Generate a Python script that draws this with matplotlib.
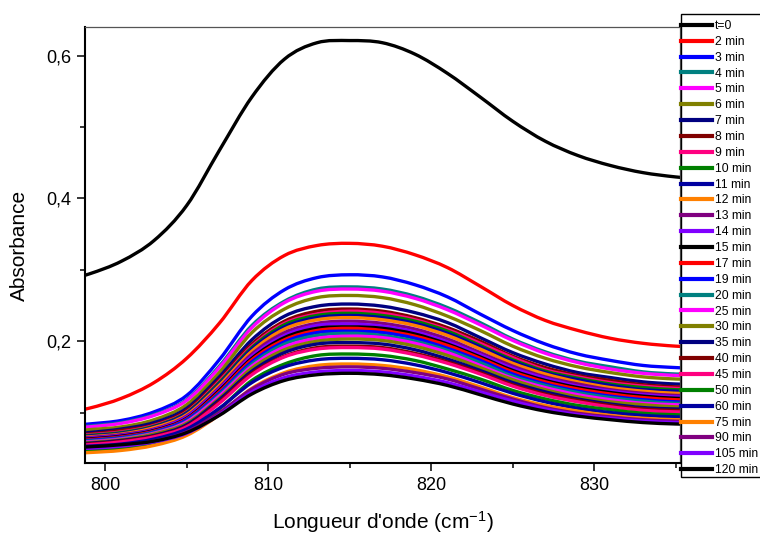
import matplotlib
matplotlib.use('Agg')
import matplotlib.pyplot as plt
from matplotlib.ticker import FixedLocator, FixedFormatter
from matplotlib.path import Path
from matplotlib.patches import PathPatch, Rectangle
from matplotlib.lines import Line2D

plt.rcParams['font.family'] = ['Liberation Sans', 'DejaVu Sans']
plt.rcParams['mathtext.fontset'] = 'custom'
plt.rcParams['mathtext.rm'] = 'Liberation Sans'
plt.rcParams['mathtext.it'] = 'Liberation Sans:italic'

# ---------------- data ----------------
wavenumber = [797, 799, 801, 803, 805, 807, 809, 811, 813, 815, 817,
              819, 821, 823, 825, 827, 829, 831, 833, 835, 837]

abs_t0 = [0.281, 0.294, 0.312, 0.341, 0.390, 0.467, 0.542, 0.595, 0.618, 0.621, 0.618,
          0.602, 0.575, 0.542, 0.508, 0.480, 0.460, 0.446, 0.436, 0.430, 0.426]
abs_2 = [0.097, 0.106, 0.120, 0.142, 0.176, 0.225, 0.285, 0.320, 0.334, 0.337, 0.333,
         0.321, 0.303, 0.277, 0.250, 0.229, 0.215, 0.204, 0.197, 0.193, 0.191]
abs_3 = [0.080, 0.084, 0.089, 0.101, 0.124, 0.174, 0.235, 0.272, 0.289, 0.293, 0.290,
         0.279, 0.262, 0.238, 0.215, 0.196, 0.182, 0.173, 0.166, 0.163, 0.161]
abs_4 = [0.077, 0.081, 0.086, 0.097, 0.118, 0.165, 0.222, 0.256, 0.273, 0.276, 0.273,
         0.263, 0.247, 0.226, 0.203, 0.185, 0.172, 0.164, 0.157, 0.154, 0.153]
abs_5 = [0.077, 0.080, 0.085, 0.096, 0.117, 0.163, 0.219, 0.254, 0.270, 0.273, 0.270,
         0.260, 0.244, 0.223, 0.201, 0.183, 0.170, 0.161, 0.155, 0.152, 0.151]
abs_6 = [0.072, 0.076, 0.080, 0.090, 0.111, 0.156, 0.212, 0.245, 0.261, 0.264, 0.261,
         0.251, 0.235, 0.215, 0.193, 0.176, 0.164, 0.156, 0.150, 0.147, 0.146]
abs_7 = [0.068, 0.072, 0.077, 0.086, 0.106, 0.150, 0.202, 0.235, 0.249, 0.252, 0.249,
         0.240, 0.226, 0.205, 0.184, 0.168, 0.156, 0.149, 0.143, 0.140, 0.139]
abs_8 = [0.066, 0.070, 0.075, 0.083, 0.103, 0.146, 0.196, 0.228, 0.242, 0.245, 0.242,
         0.233, 0.219, 0.200, 0.179, 0.163, 0.152, 0.145, 0.139, 0.136, 0.135]
abs_9 = [0.066, 0.069, 0.073, 0.082, 0.101, 0.144, 0.193, 0.225, 0.238, 0.242, 0.239,
         0.230, 0.216, 0.197, 0.177, 0.160, 0.150, 0.142, 0.137, 0.134, 0.133]
abs_10 = [0.065, 0.068, 0.072, 0.081, 0.100, 0.142, 0.191, 0.223, 0.236, 0.239, 0.236,
          0.228, 0.214, 0.194, 0.174, 0.158, 0.148, 0.140, 0.135, 0.132, 0.131]
abs_11 = [0.064, 0.067, 0.071, 0.080, 0.099, 0.140, 0.189, 0.220, 0.233, 0.236, 0.233,
          0.225, 0.211, 0.192, 0.172, 0.156, 0.146, 0.138, 0.132, 0.130, 0.128]
abs_12 = [0.063, 0.066, 0.070, 0.079, 0.097, 0.138, 0.186, 0.217, 0.230, 0.233, 0.230,
          0.222, 0.208, 0.189, 0.169, 0.154, 0.143, 0.135, 0.130, 0.127, 0.126]
abs_13 = [0.062, 0.065, 0.069, 0.077, 0.095, 0.135, 0.182, 0.212, 0.225, 0.228, 0.225,
          0.217, 0.203, 0.184, 0.165, 0.150, 0.140, 0.132, 0.127, 0.124, 0.123]
abs_14 = [0.061, 0.064, 0.068, 0.076, 0.094, 0.133, 0.179, 0.208, 0.222, 0.224, 0.221,
          0.213, 0.199, 0.181, 0.162, 0.148, 0.137, 0.130, 0.125, 0.122, 0.121]
abs_15 = [0.060, 0.063, 0.067, 0.075, 0.092, 0.131, 0.176, 0.205, 0.218, 0.220, 0.218,
          0.210, 0.196, 0.178, 0.159, 0.145, 0.135, 0.128, 0.123, 0.120, 0.119]
abs_17 = [0.059, 0.062, 0.066, 0.074, 0.091, 0.129, 0.174, 0.202, 0.215, 0.218, 0.215,
          0.207, 0.194, 0.176, 0.157, 0.143, 0.133, 0.126, 0.121, 0.118, 0.117]
abs_19 = [0.058, 0.061, 0.065, 0.073, 0.090, 0.127, 0.171, 0.199, 0.212, 0.214, 0.212,
          0.204, 0.190, 0.173, 0.154, 0.140, 0.130, 0.123, 0.118, 0.115, 0.114]
abs_20 = [0.057, 0.060, 0.064, 0.072, 0.088, 0.125, 0.168, 0.196, 0.208, 0.211, 0.208,
          0.200, 0.187, 0.170, 0.151, 0.138, 0.128, 0.121, 0.116, 0.113, 0.112]
abs_25 = [0.056, 0.059, 0.063, 0.071, 0.087, 0.123, 0.165, 0.192, 0.204, 0.207, 0.205,
          0.197, 0.184, 0.166, 0.148, 0.135, 0.125, 0.118, 0.113, 0.111, 0.109]
abs_30 = [0.055, 0.058, 0.062, 0.070, 0.085, 0.120, 0.162, 0.188, 0.200, 0.203, 0.201,
          0.193, 0.180, 0.163, 0.146, 0.132, 0.122, 0.115, 0.111, 0.108, 0.107]
abs_35 = [0.054, 0.057, 0.061, 0.068, 0.083, 0.118, 0.158, 0.184, 0.196, 0.198, 0.196,
          0.188, 0.175, 0.159, 0.142, 0.129, 0.119, 0.112, 0.107, 0.105, 0.104]
abs_40 = [0.053, 0.056, 0.060, 0.067, 0.081, 0.115, 0.155, 0.179, 0.191, 0.193, 0.191,
          0.183, 0.171, 0.156, 0.139, 0.126, 0.117, 0.110, 0.105, 0.103, 0.102]
abs_45 = [0.052, 0.055, 0.059, 0.066, 0.080, 0.113, 0.153, 0.178, 0.189, 0.191, 0.189,
          0.181, 0.169, 0.154, 0.137, 0.124, 0.115, 0.108, 0.103, 0.101, 0.100]
abs_50 = [0.044, 0.047, 0.050, 0.058, 0.073, 0.105, 0.145, 0.168, 0.180, 0.182, 0.180,
          0.173, 0.161, 0.147, 0.131, 0.119, 0.110, 0.104, 0.099, 0.097, 0.096]
abs_60 = [0.051, 0.053, 0.056, 0.063, 0.077, 0.106, 0.142, 0.164, 0.174, 0.176, 0.174,
          0.167, 0.156, 0.142, 0.127, 0.115, 0.106, 0.100, 0.096, 0.094, 0.093]
abs_75 = [0.042, 0.044, 0.047, 0.054, 0.068, 0.097, 0.134, 0.156, 0.166, 0.168, 0.166,
          0.160, 0.150, 0.136, 0.121, 0.110, 0.102, 0.096, 0.092, 0.090, 0.089]
abs_90 = [0.049, 0.051, 0.054, 0.060, 0.073, 0.100, 0.133, 0.154, 0.162, 0.164, 0.162,
          0.156, 0.147, 0.133, 0.119, 0.107, 0.099, 0.094, 0.090, 0.088, 0.087]
abs_105 = [0.048, 0.050, 0.053, 0.059, 0.071, 0.097, 0.129, 0.149, 0.157, 0.159, 0.157,
           0.151, 0.142, 0.129, 0.116, 0.105, 0.097, 0.092, 0.088, 0.086, 0.085]
abs_120 = [0.050, 0.052, 0.055, 0.060, 0.072, 0.096, 0.126, 0.145, 0.153, 0.155, 0.153,
           0.147, 0.138, 0.125, 0.112, 0.102, 0.095, 0.090, 0.086, 0.084, 0.083]

series_labels = ['t=0', '2 min', '3 min', '4 min', '5 min', '6 min', '7 min', '8 min',
                 '9 min', '10 min', '11 min', '12 min', '13 min', '14 min', '15 min',
                 '17 min', '19 min', '20 min', '25 min', '30 min', '35 min', '40 min',
                 '45 min', '50 min', '60 min', '75 min', '90 min', '105 min', '120 min']
series_values = [abs_t0, abs_2, abs_3, abs_4, abs_5, abs_6, abs_7, abs_8, abs_9, abs_10,
                 abs_11, abs_12, abs_13, abs_14, abs_15, abs_17, abs_19, abs_20, abs_25,
                 abs_30, abs_35, abs_40, abs_45, abs_50, abs_60, abs_75, abs_90, abs_105,
                 abs_120]

palette = ['#000000', '#FF0000', '#0000FF', '#008080', '#FF00FF', '#808000', '#000080',
           '#800000', '#FF0080', '#008000', '#0000A0', '#FF8000', '#800080', '#8000FF']

xtick_values = [800, 810, 820, 830]
xtick_labels = ['800', '810', '820', '830']
xminor_values = [805, 815, 825, 835]
ytick_values = [0.2, 0.4, 0.6]
ytick_labels = ['0,2', '0,4', '0,6']
yminor_values = [0.1, 0.3, 0.5]


def smooth_path(xs, ys):
    """Bezier path passing through every data point (Catmull-Rom tangents)."""
    pts = list(zip(xs, ys))
    n = len(pts)
    verts = [pts[0]]
    codes = [Path.MOVETO]
    for i in range(n - 1):
        p0 = pts[i - 1] if i > 0 else pts[i]
        p1 = pts[i]
        p2 = pts[i + 1]
        p3 = pts[i + 2] if i + 2 < n else pts[i + 1]
        c1 = (p1[0] + (p2[0] - p0[0]) / 6.0, p1[1] + (p2[1] - p0[1]) / 6.0)
        c2 = (p2[0] - (p3[0] - p1[0]) / 6.0, p2[1] - (p3[1] - p1[1]) / 6.0)
        verts += [c1, c2, p2]
        codes += [Path.CURVE4, Path.CURVE4, Path.CURVE4]
    return Path(verts, codes)


# ---------------- figure ----------------
fig = plt.figure(figsize=(7.6, 5.34), dpi=100)
ax = fig.add_axes([0.1118, 0.1330, 0.7829, 0.8159])

handles = []
for i, (lab, vals) in enumerate(zip(series_labels, series_values)):
    col = palette[i % len(palette)]
    patch = PathPatch(smooth_path(wavenumber, vals), facecolor='none', edgecolor=col,
                      lw=2.4, joinstyle='round', capstyle='butt', zorder=2 + i * 0.01)
    ax.add_patch(patch)
    handles.append(Line2D([], [], color=col, lw=3.0, label=lab))

ax.set_xlim(798.76, 835.26)
ax.set_ylim(0.0294, 0.6396)

ax.xaxis.set_major_locator(FixedLocator(xtick_values))
ax.xaxis.set_major_formatter(FixedFormatter(xtick_labels))
ax.xaxis.set_minor_locator(FixedLocator(xminor_values))
ax.yaxis.set_major_locator(FixedLocator(ytick_values))
ax.yaxis.set_major_formatter(FixedFormatter(ytick_labels))
ax.yaxis.set_minor_locator(FixedLocator(yminor_values))

ax.tick_params(axis='both', which='major', direction='out', length=6, width=1.1,
               labelsize=13, pad=4, color='black')
ax.tick_params(axis='both', which='minor', direction='out', length=3.5, width=1.1,
               color='black')
ax.tick_params(top=False, right=False)

for side in ['left', 'bottom']:
    ax.spines[side].set_linewidth(1.5)
    ax.spines[side].set_color('black')
ax.spines['top'].set_linewidth(0.9)
ax.spines['top'].set_color('#555555')
ax.spines['right'].set_linewidth(0.9)
ax.spines['right'].set_color('#555555')

ax.set_xlabel("Longueur d'onde (cm$^{-1}$)", fontsize=15, labelpad=11)
ax.set_ylabel('Absorbance', fontsize=15, labelpad=12)

# legend frame (extends past the right edge of the picture, as in the reference)
frame = Rectangle((0.8957, 0.1067), 0.2, 0.8665, transform=fig.transFigure,
                  facecolor='white', edgecolor='black', lw=1.0, clip_on=False,
                  zorder=4)
ax.add_patch(frame)

leg = ax.legend(handles=handles, loc='upper left', bbox_to_anchor=(0.8961, 0.9627),
                bbox_transform=fig.transFigure, borderaxespad=0.0,
                fontsize=8.7, frameon=False, borderpad=0.0,
                labelspacing=0.32, handlelength=2.6, handletextpad=0.18,
                handleheight=0.6)
leg.set_zorder(5)

fig.savefig('out.png', dpi=100)
